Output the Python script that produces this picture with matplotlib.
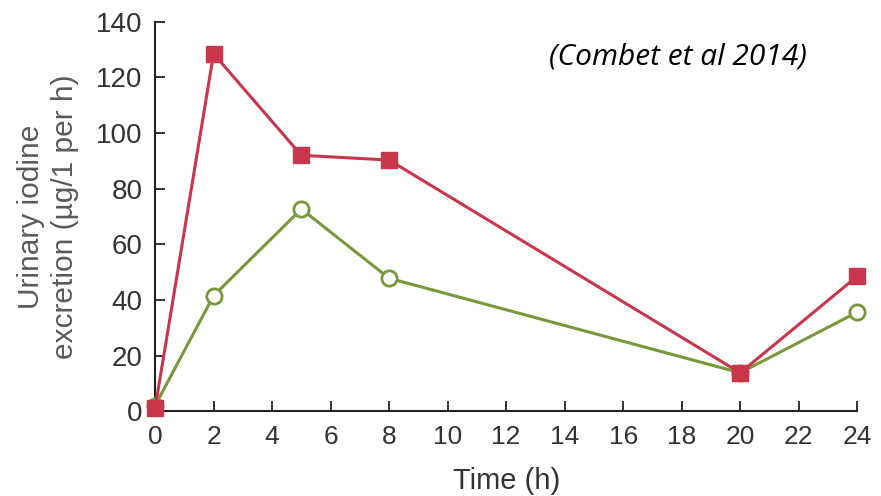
import matplotlib.pyplot as plt

# data
time_h = [0, 2, 5, 8, 20, 24]
red_series = [1, 128.5, 92, 90.3, 13.8, 48.5]
green_series = [2, 41.5, 72.7, 47.8, 13.8, 35.6]
x_ticks = list(range(0, 25, 2))
y_ticks = list(range(0, 141, 20))

red = '#c8364c'
green = '#78983a'
txt = '#333333'

fig = plt.figure(figsize=(8.81, 4.96), dpi=100)
ax = fig.add_axes([0.176, 0.171, 0.797, 0.785])

ax.plot(time_h, green_series, color=green, lw=2.2, marker='o', ms=11,
        mfc='white', mec=green, mew=2, clip_on=False, zorder=3)
ax.plot(time_h, red_series, color=red, lw=2.2, marker='s', ms=11.5,
        mfc=red, mec=red, clip_on=False, zorder=4)

ax.set_xlim(0, 24)
ax.set_ylim(0, 140)
ax.set_xticks(x_ticks)
ax.set_yticks(y_ticks)
for s in ['top', 'right']:
    ax.spines[s].set_visible(False)
for s in ['left', 'bottom']:
    ax.spines[s].set_color('#222222')
    ax.spines[s].set_linewidth(1.5)
ax.tick_params(direction='in', length=7, width=1.3, color='#222222',
               labelcolor=txt)
ax.tick_params(axis='x', pad=10)
ax.tick_params(axis='y', pad=9)
for lab in ax.get_xticklabels():
    lab.set_fontfamily('Liberation Sans')
    lab.set_fontsize(19)
for lab in ax.get_yticklabels():
    lab.set_fontfamily('Liberation Sans')
    lab.set_fontsize(20)

ax.set_xlabel('Time (h)', fontsize=21, color=txt, family='Liberation Sans', labelpad=13)
fig.text(48 / 881, 0.5635, 'Urinary iodine\nexcretion (µg/1 per h)', fontsize=21.5,
         color='#5a5a5a', family='Liberation Sans', rotation=90,
         ha='center', va='center', linespacing=1.25)

fig.text(0.77, 0.885, '(Combet et al 2014)', fontsize=21.5, style='italic',
         family='Open Sans', ha='center', va='center', color='black')

fig.savefig('out.png', dpi=100)
